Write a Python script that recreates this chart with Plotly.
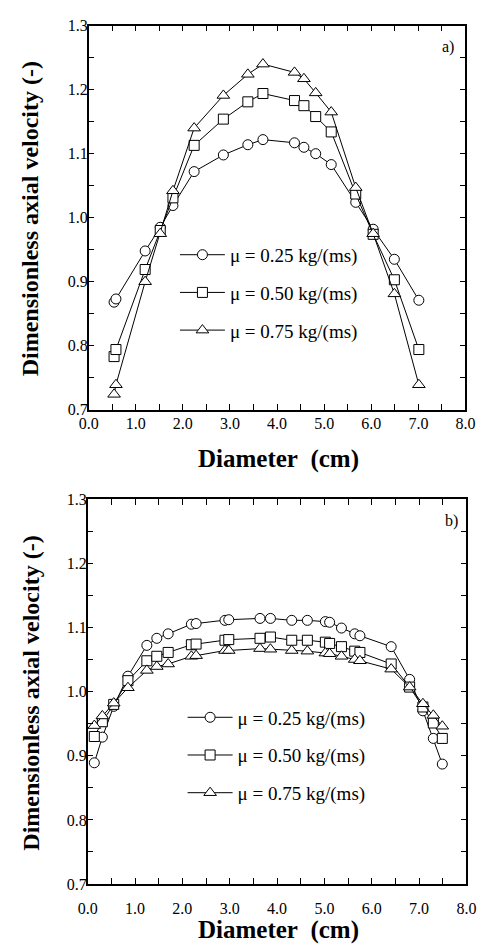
import plotly.graph_objects as go

# ---- Panel a) ----
diam_a = [0.54, 0.58, 1.20, 1.52, 1.79, 2.24, 2.86, 3.38, 3.70,
          4.37, 4.57, 4.82, 5.15, 5.67, 6.04, 6.49, 7.01]
vel_a_025 = [0.868, 0.873, 0.948, 0.985, 1.019, 1.072, 1.098, 1.114, 1.122,
             1.117, 1.110, 1.100, 1.083, 1.024, 0.982, 0.935, 0.871]
vel_a_050 = [0.783, 0.794, 0.919, 0.980, 1.031, 1.113, 1.154, 1.181, 1.194,
             1.183, 1.175, 1.158, 1.134, 1.037, 0.974, 0.903, 0.794]
vel_a_075 = [0.724, 0.739, 0.900, 0.975, 1.042, 1.140, 1.191, 1.224, 1.240,
             1.227, 1.217, 1.195, 1.165, 1.047, 0.975, 0.881, 0.739]

# ---- Panel b) ----
diam_b = [0.14, 0.31, 0.55, 0.85, 1.25, 1.46, 1.70, 2.19, 2.29, 2.90, 2.98,
          3.64, 3.86, 4.31, 4.64, 5.02, 5.11, 5.36, 5.64, 5.75, 6.41, 6.80,
          7.08, 7.30, 7.49]
vel_b_025 = [0.889, 0.929, 0.977, 1.024, 1.072, 1.083, 1.090, 1.105, 1.106,
             1.111, 1.112, 1.114, 1.114, 1.111, 1.111, 1.109, 1.108, 1.099,
             1.090, 1.087, 1.070, 1.019, 0.970, 0.927, 0.887]
vel_b_050 = [0.930, 0.953, 0.980, 1.017, 1.048, 1.055, 1.061, 1.073, 1.074,
             1.080, 1.081, 1.083, 1.085, 1.080, 1.080, 1.077, 1.075, 1.070,
             1.063, 1.061, 1.043, 1.007, 0.976, 0.951, 0.927]
vel_b_075 = [0.947, 0.962, 0.982, 1.006, 1.033, 1.039, 1.043, 1.055, 1.056,
             1.064, 1.064, 1.067, 1.066, 1.064, 1.063, 1.060, 1.059, 1.055,
             1.050, 1.048, 1.035, 1.007, 0.981, 0.963, 0.946]

series_names = ["\u03bc = 0.25 kg/(ms)", "\u03bc = 0.50 kg/(ms)", "\u03bc = 0.75 kg/(ms)"]
symbols = ["circle", "square", "triangle-up"]
x_ticks = [0, 1, 2, 3, 4, 5, 6, 7, 8]
x_tick_labels = ["0.0", "1.0", "2.0", "3.0", "4.0", "5.0", "6.0", "7.0", "8.0"]
y_ticks = [0.7, 0.8, 0.9, 1.0, 1.1, 1.2, 1.3]
y_tick_labels = ["0.7", "0.8", "0.9", "1.0", "1.1", "1.2", "1.3"]

W, H = 487, 952
FONT = "Times New Roman, Liberation Serif, DejaVu Serif, serif"

fig = go.Figure()

panels = [
    (diam_a, [vel_a_025, vel_a_050, vel_a_075], "x", "y", "legend"),
    (diam_b, [vel_b_025, vel_b_050, vel_b_075], "x2", "y2", "legend2"),
]
for diam, vels, xa, ya, leg in panels:
    for k, (vals, name, sym) in enumerate(zip(vels, series_names, symbols)):
        fig.add_trace(go.Scatter(
            x=diam, y=vals, name=name, mode="lines+markers",
            xaxis=xa, yaxis=ya, legend=leg, legendgroup=f"{leg}{k}",
            line=dict(color="black", width=1),
            marker=dict(symbol=sym, size=10 if sym != "triangle-up" else 11,
                        color="white", line=dict(color="black", width=1)),
        ))

def px_x(v):
    return v / W

def px_y(v):
    return 1 - v / H

axis_common = dict(
    showline=True, linecolor="black", linewidth=1.5, mirror="ticks",
    ticks="inside", ticklen=6, tickwidth=1, tickcolor="black",
    showgrid=False, zeroline=False,
    tickfont=dict(family=FONT, size=16, color="black"),
)

fig.update_layout(
    width=W, height=H,
    margin=dict(l=0, r=0, t=0, b=0),
    paper_bgcolor="white", plot_bgcolor="white",
    showlegend=True,
    xaxis=dict(domain=[px_x(82), px_x(475)], range=[0, 8], anchor="y",
               tickvals=x_ticks, ticktext=x_tick_labels,
               minor=dict(dtick=0.5, ticks="inside", ticklen=6, tickcolor="black", showgrid=False),
               ticklabelstandoff=-2, **axis_common),
    yaxis=dict(domain=[px_y(409), px_y(18)], range=[0.7, 1.3], anchor="x",
               tickvals=y_ticks, ticktext=y_tick_labels,
               minor=dict(dtick=0.05, ticks="inside", ticklen=6, tickcolor="black", showgrid=False),
               ticklabelstandoff=-4, **axis_common),
    xaxis2=dict(domain=[px_x(81), px_x(476)], range=[0, 8], anchor="y2",
                tickvals=x_ticks, ticktext=x_tick_labels,
                minor=dict(dtick=0.5, ticks="inside", ticklen=6, tickcolor="black", showgrid=False),
                ticklabelstandoff=9, **axis_common),
    yaxis2=dict(domain=[px_y(892), px_y(500)], range=[0.7, 1.3], anchor="x2",
                tickvals=y_ticks, ticktext=y_tick_labels,
                minor=dict(dtick=0.05, ticks="inside", ticklen=6, tickcolor="black", showgrid=False),
                ticklabelstandoff=-4, **axis_common),
    legend=dict(x=px_x(172), y=px_y(232), xanchor="left", yanchor="top",
                bgcolor="rgba(0,0,0,0)", font=dict(family=FONT, size=19, color="black"),
                tracegroupgap=10, itemwidth=45, traceorder="grouped"),
    legend2=dict(x=px_x(180), y=px_y(703), xanchor="left", yanchor="top",
                 bgcolor="rgba(0,0,0,0)", font=dict(family=FONT, size=19, color="black"),
                 tracegroupgap=10, itemwidth=45, traceorder="grouped"),
)

xtitle_font = dict(family=FONT, size=25, color="black")
ytitle_font = dict(family=FONT, size=24, color="black")
annotations = [
    dict(text="<b>Diameter\u00a0\u00a0(cm)</b>", x=px_x(280), y=px_y(459), font=xtitle_font),
    dict(text="<b>Diameter\u00a0\u00a0(cm)</b>", x=px_x(280), y=px_y(939), font=xtitle_font),
    dict(text="<b>Dimensionless axial velocity (-)</b>", x=px_x(21), y=px_y(215),
         textangle=-90, font=ytitle_font),
    dict(text="<b>Dimensionless axial velocity (-)</b>", x=px_x(21), y=px_y(698),
         textangle=-90, font=ytitle_font),
]
for a in annotations:
    fig.add_annotation(xref="paper", yref="paper", showarrow=False,
                       xanchor="center", yanchor="middle", **a)

for label, xx, yy in [("a)", 457, 40), ("b)", 460, 522)]:
    fig.add_annotation(text=label, xref="paper", yref="paper", x=px_x(xx), y=px_y(yy),
                       showarrow=False, xanchor="center", yanchor="middle",
                       font=dict(family=FONT, size=16, color="black"))

fig.write_html("out.html")
